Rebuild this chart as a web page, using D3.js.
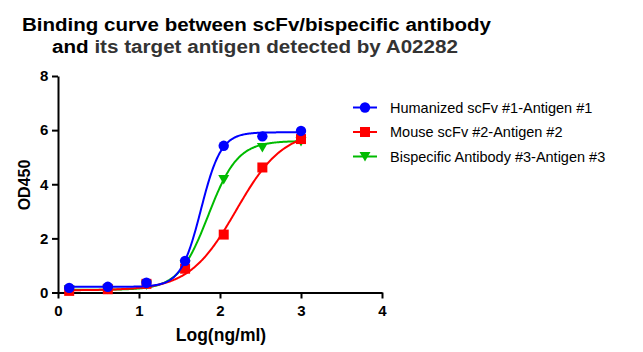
<!DOCTYPE html>
<html><head><meta charset="utf-8">
<script src="https://cdn.jsdelivr.net/npm/d3@7"></script>
<style>body{margin:0;background:#fff}svg{display:block}</style>
</head><body>
<svg id="chart" width="643" height="352"></svg>
<script>
// ---- data ----
const logConc = [0.138, 0.615, 1.092, 1.569, 2.046, 2.523, 3.0];
const seriesNames = ["Humanized scFv #1-Antigen #1", "Mouse scFv #2-Antigen #2", "Bispecific Antibody #3-Antigen #3"];
const humanizedOD = [0.17, 0.21, 0.36, 1.17, 5.42, 5.77, 5.97];
const mouseOD = [0.06, 0.12, 0.32, 0.88, 2.14, 4.62, 5.67];
const bispecificOD = [0.10, 0.12, 0.28, 1.02, 4.18, 5.36, 5.58];
// 4PL fit parameters: [bottom, top, logEC50, hill]
const humanizedFit = [0.21, 5.92, 1.765, 3.5];
const mouseFit = [0.08, 6.0, 2.2, 1.5];
const bispecificFit = [0.1, 5.6, 1.855, 2.39];
const colors = ["#0000ff", "#ff0000", "#00bb00"];
const shapes = ["circle", "square", "triangleDown"];
const xTicks = [0, 1, 2, 3, 4];
const yTicks = [0, 2, 4, 6, 8];

const svg = d3.select("#chart");
const x = d3.scaleLinear().domain([0, 4]).range([58, 382]);
const y = d3.scaleLinear().domain([0, 8]).range([292.5, 76]);
const font = "Liberation Sans, Arial, sans-serif";

// title
svg.append("text").attr("x", 22).attr("y", 31)
  .attr("font-family", font).attr("font-weight", "bold").attr("font-size", 18)
  .attr("fill", "#000").attr("textLength", 469).attr("lengthAdjust", "spacingAndGlyphs")
  .text("Binding curve between scFv/bispecific antibody");
const t2 = svg.append("text").attr("x", 52).attr("y", 52.5)
  .attr("font-family", font).attr("font-weight", "bold").attr("font-size", 18)
  .attr("textLength", 406).attr("lengthAdjust", "spacingAndGlyphs");
t2.append("tspan").attr("fill", "#000").text("and ");
t2.append("tspan").attr("fill", "#333").text("its target antigen detected by A02282");

// axes
const xAxis = svg.append("g").attr("transform", `translate(0,${y(0)})`)
  .call(d3.axisBottom(x).tickValues(xTicks).tickFormat(d3.format("d")).tickSize(6).tickSizeOuter(0));
const yAxis = svg.append("g").attr("transform", `translate(${x(0)},0)`)
  .call(d3.axisLeft(y).tickValues(yTicks).tickFormat(d3.format("d")).tickSize(6).tickSizeOuter(0));
[xAxis, yAxis].forEach(g => {
  g.select(".domain").attr("stroke", "#000").attr("stroke-width", 2);
  g.selectAll(".tick line").attr("stroke", "#000").attr("stroke-width", 2);
  g.selectAll(".tick text").attr("font-family", font).attr("font-weight", "bold")
    .attr("font-size", 15).attr("fill", "#000");
});
xAxis.selectAll(".tick text").attr("dy", "0.95em");
yAxis.selectAll(".tick text").attr("dx", "-0.05em");

svg.append("text").attr("x", 221).attr("y", 341).attr("text-anchor", "middle")
  .attr("font-family", font).attr("font-weight", "bold").attr("font-size", 17.5).text("Log(ng/ml)");
svg.append("text").attr("transform", `translate(30,185) rotate(-90)`).attr("text-anchor", "middle")
  .attr("font-family", font).attr("font-weight", "bold").attr("font-size", 16).text("OD450");

// curves
const fits = [humanizedFit, mouseFit, bispecificFit];
const values = [humanizedOD, mouseOD, bispecificOD];
function fourPL(p, lx) { return p[0] + (p[1] - p[0]) / (1 + Math.pow(10, (p[2] - lx) * p[3])); }
const xs = d3.range(logConc[0], logConc[logConc.length - 1] + 1e-9, 0.01);
const line = d3.line().x(d => x(d[0])).y(d => y(d[1]));

function drawMarker(g, shape, cx, cy, color) {
  if (shape === "circle") g.append("circle").attr("cx", cx).attr("cy", cy).attr("r", 5.2).attr("fill", color);
  else if (shape === "square") g.append("rect").attr("x", cx - 5).attr("y", cy - 5).attr("width", 10).attr("height", 10).attr("fill", color);
  else g.append("path").attr("d", `M${cx-5.5},${cy-4.5}L${cx+5.5},${cy-4.5}L${cx},${cy+5}Z`).attr("fill", color);
}

// draw order: green, red, blue (blue on top)
[2, 1, 0].forEach(i => {
  const g = svg.append("g");
  g.append("path").datum(xs.map(lx => [lx, fourPL(fits[i], lx)]))
    .attr("d", line).attr("fill", "none").attr("stroke", colors[i]).attr("stroke-width", 2);
  logConc.forEach((lx, j) => drawMarker(g, shapes[i], x(lx), y(values[i][j]), colors[i]));
});

// legend
const legend = svg.append("g");
seriesNames.forEach((name, i) => {
  const ly = 107.5 + i * 24.5;
  legend.append("line").attr("x1", 353).attr("x2", 377).attr("y1", ly).attr("y2", ly)
    .attr("stroke", colors[i]).attr("stroke-width", 2);
  drawMarker(legend, shapes[i], 365, ly, colors[i]);
  legend.append("text").attr("x", 390).attr("y", ly + 5).attr("font-family", font)
    .attr("font-size", 14.5).attr("fill", "#000").text(name);
});
</script>
</body></html>
